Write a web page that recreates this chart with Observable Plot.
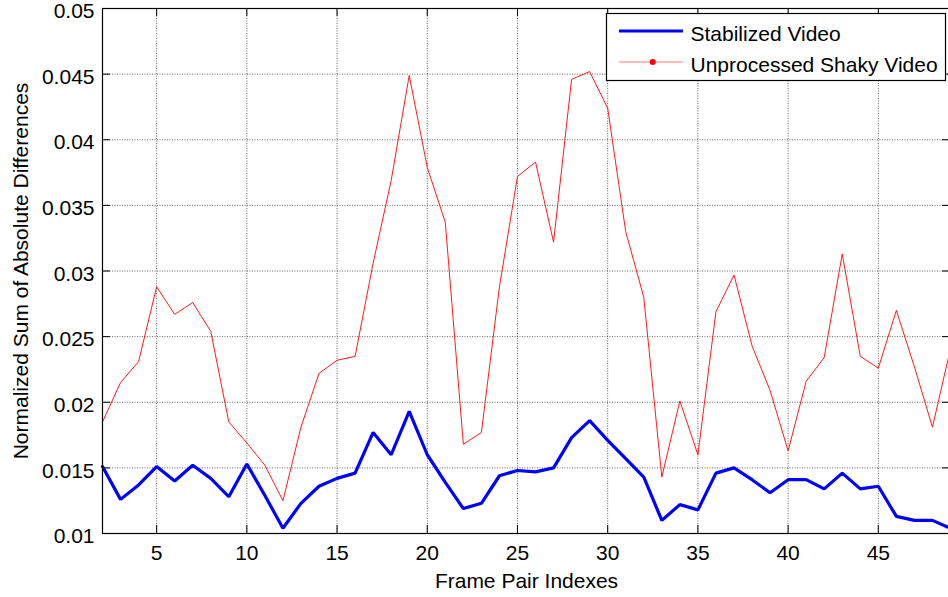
<!DOCTYPE html>
<html>
<head>
<meta charset="utf-8">
<script src="https://cdn.jsdelivr.net/npm/d3@7"></script>
<script src="https://cdn.jsdelivr.net/npm/@observablehq/plot@0.6"></script>
<style>
  html, body { margin: 0; padding: 0; background: #fff; }
  #wrap { position: relative; width: 948px; height: 597px; overflow: hidden; }
  #legend { position: absolute; left: 0; top: 0; }
</style>
</head>
<body>
<div id="wrap"></div>
<script>
const frames = [2,3,4,5,6,7,8,9,10,11,12,13,14,15,16,17,18,19,20,21,22,23,24,25,26,27,28,29,30,31,32,33,34,35,36,37,38,39,40,41,42,43,44,45,46,47,48,49];
const stabilized = [0.0151,0.0126,0.0137,0.0151,0.0140,0.0152,0.0142,0.0128,0.0153,0.0129,0.0104,0.0123,0.0136,0.0142,0.0146,0.0177,0.0160,0.0193,0.0160,0.0139,0.0119,0.0123,0.0144,0.0148,0.0147,0.0150,0.0173,0.0186,0.0171,0.0157,0.0143,0.0110,0.0122,0.0118,0.0146,0.0150,0.0141,0.0131,0.0141,0.0141,0.0134,0.0146,0.0134,0.0136,0.0113,0.0110,0.0110,0.0104];
const shaky = [0.0185,0.0215,0.0231,0.0288,0.0267,0.0276,0.0254,0.0185,0.0169,0.0152,0.0125,0.0181,0.0222,0.0232,0.0235,0.0306,0.0369,0.0449,0.0379,0.0337,0.0168,0.0177,0.0288,0.0372,0.0383,0.0322,0.0446,0.0452,0.0424,0.0330,0.0280,0.0143,0.0201,0.0160,0.0269,0.0297,0.0243,0.0209,0.0163,0.0216,0.0234,0.0313,0.0235,0.0226,0.0270,0.0227,0.0181,0.0241];
const seriesNames = ["Stabilized Video", "Unprocessed Shaky Video"];
const xTicks = [5,10,15,20,25,30,35,40,45];
const xTickLabels = ["5","10","15","20","25","30","35","40","45"];
const yTicks = [0.01,0.015,0.02,0.025,0.03,0.035,0.04,0.045,0.05];
const yTickLabels = ["0.01","0.015","0.02","0.025","0.03","0.035","0.04","0.045","0.05"];
const xLabel = "Frame Pair Indexes";
const yLabel = "Normalized Sum of Absolute Differences";

const stabData = frames.map((f, i) => ({frame: f, value: stabilized[i]}));
const shakyData = frames.map((f, i) => ({frame: f, value: shaky[i]}));

const font = "'Liberation Sans', Arial, sans-serif";
const fs = 21;
const gridStyle = {stroke: "#000", strokeOpacity: 0.6, strokeDasharray: "1,1.5", strokeWidth: 1};

const chart = Plot.plot({
  width: 948,
  height: 597,
  marginLeft: 102,
  marginRight: -2,
  marginTop: 8,
  marginBottom: 64,
  style: {fontFamily: font, fontSize: fs + "px", background: "#fff", color: "#000"},
  x: {domain: [2, 49]},
  y: {domain: [0.01, 0.05]},
  marks: [
    Plot.gridX(xTicks, gridStyle),
    Plot.gridY(yTicks, gridStyle),
    Plot.axisX(xTicks, {tickSize: 0, tickPadding: 12, tickFormat: (d, i) => xTickLabels[i], label: null, fontSize: fs}),
    Plot.axisY(yTicks, {tickSize: 0, tickPadding: 8, dy: 3, tickFormat: (d, i) => yTickLabels[i], label: null, fontSize: fs}),
    Plot.ruleX(xTicks, {insetTop: 517, stroke: "#000"}),
    Plot.ruleX(xTicks, {insetBottom: 517, stroke: "#000"}),
    Plot.ruleY(yTicks, {insetRight: 840, stroke: "#000"}),
    Plot.ruleY(yTicks, {insetLeft: 840, stroke: "#000"}),
    Plot.line(shakyData, {x: "frame", y: "value", stroke: "#ff0000", strokeWidth: 0.9}),
    Plot.line(stabData, {x: "frame", y: "value", stroke: "#0000ff", strokeWidth: 3.2, strokeLinejoin: "miter"}),
    Plot.frame({stroke: "#000", strokeWidth: 1.2}),
    Plot.text([xLabel], {frameAnchor: "bottom", dy: 54, lineAnchor: "bottom", textAnchor: "middle", fontSize: fs, fill: "#000"}),
    Plot.text([yLabel], {frameAnchor: "left", dx: -75, rotate: -90, lineAnchor: "bottom", textAnchor: "middle", fontSize: fs, fill: "#000"})
  ]
});
document.getElementById("wrap").appendChild(chart);

// Legend
const leg = d3.select("#wrap").append("svg")
  .attr("id", "legend")
  .attr("width", 948).attr("height", 100)
  .style("font-family", font).style("font-size", fs + "px");
leg.append("rect").attr("x", 606.5).attr("y", 13.5).attr("width", 339).attr("height", 67)
  .attr("fill", "#fff").attr("stroke", "#000").attr("stroke-width", 1.2);
leg.append("line").attr("x1", 619).attr("x2", 683).attr("y1", 31).attr("y2", 31)
  .attr("stroke", "#0000ff").attr("stroke-width", 3.2);
leg.append("text").attr("x", 690.5).attr("y", 40.5).text(seriesNames[0]);
leg.append("line").attr("x1", 619).attr("x2", 683).attr("y1", 62).attr("y2", 62)
  .attr("stroke", "#ff0000").attr("stroke-opacity", 0.6).attr("stroke-width", 0.9);
leg.append("circle").attr("cx", 652.7).attr("cy", 62).attr("r", 3).attr("fill", "#ff0000");
leg.append("text").attr("x", 690.5).attr("y", 71.5).text(seriesNames[1]);
</script>
</body>
</html>
